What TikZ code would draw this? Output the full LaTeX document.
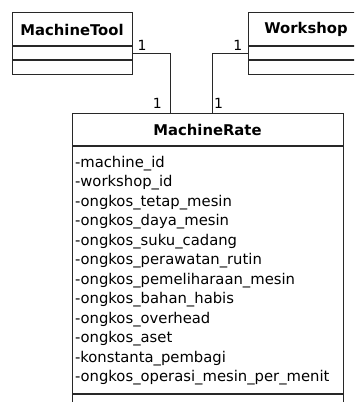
\documentclass[tikz,border=0pt]{standalone}
\usepackage{fontspec}
\setmainfont{DejaVu Sans}
\usetikzlibrary{positioning}
\definecolor{BoxLine}{RGB}{40,40,40}
\tikzset{
  classhead/.style={draw=BoxLine, line width=1pt, font=\fontsize{14.8}{19.5}\selectfont\bfseries,
    inner sep=0pt},
  classpart/.style={draw=BoxLine, line width=1pt, inner sep=0pt},
  mult/.style={font=\fontsize{14}{16}\selectfont, inner sep=0pt},
  assoc/.style={draw=BoxLine, line width=1pt}
}
\begin{document}
\begin{tikzpicture}[x=1pt,y=1pt]
  \clip (0,0) rectangle (354,402);
  \useasboundingbox (0,0) rectangle (354,402);
  \fill[white] (0,0) rectangle (354,402);
  % MachineTool
  \node[classhead, minimum width=120pt, minimum height=33pt] (tool) at (72,372.5) {MachineTool};
  \node[classpart, minimum width=120pt, minimum height=13pt, below=0pt of tool] (toolattr) {};
  \node[classpart, minimum width=120pt, minimum height=14pt, below=0pt of toolattr] (toolops) {};
  % Workshop
  \node[classhead, minimum width=116pt, minimum height=33pt] (shop) at (306,372.5) {Workshop};
  \node[classpart, minimum width=116pt, minimum height=13pt, below=0pt of shop] (shopattr) {};
  \node[classpart, minimum width=116pt, minimum height=14pt, below=0pt of shopattr] (shopops) {};
  % MachineRate
  \node[classhead, minimum width=271pt, minimum height=32pt] (rate) at (207.5,272) {MachineRate};
  \node[classpart, minimum width=271pt, minimum height=247pt, text width=265pt, align=left,
    font=\fontsize{14.8}{19.5}\selectfont, below=0pt of rate] (rateattr) {%
    -machine\_id\\
    -workshop\_id\\
    -ongkos\_tetap\_mesin\\
    -ongkos\_daya\_mesin\\
    -ongkos\_suku\_cadang\\
    -ongkos\_perawatan\_rutin\\
    -ongkos\_pemeliharaan\_mesin\\
    -ongkos\_bahan\_habis\\
    -ongkos\_overhead\\
    -ongkos\_aset\\
    -konstanta\_pembagi\\
    -ongkos\_operasi\_mesin\_per\_menit};
  \node[classpart, minimum width=271pt, minimum height=24pt, below=0pt of rateattr] (rateops) {};
  % associations
  \coordinate (toolend) at ([xshift=-37.5pt]rate.north);
  \coordinate (shopend) at ([xshift=4.5pt]rate.north);
  \draw[assoc] (toolattr.east) -| (toolend);
  \draw[assoc] (shopattr.west) -| (shopend);
  \node[mult, above right=3pt and 5pt of toolattr.east] (m1) {1};
  \node[mult, above left=5pt and 8pt of toolend] (m2) {1};
  \node[mult, above right=5pt and 2pt of shopend] (m3) {1};
  \node[mult, above left=3pt and 5pt of shopattr.west] (m4) {1};
\end{tikzpicture}
\end{document}
